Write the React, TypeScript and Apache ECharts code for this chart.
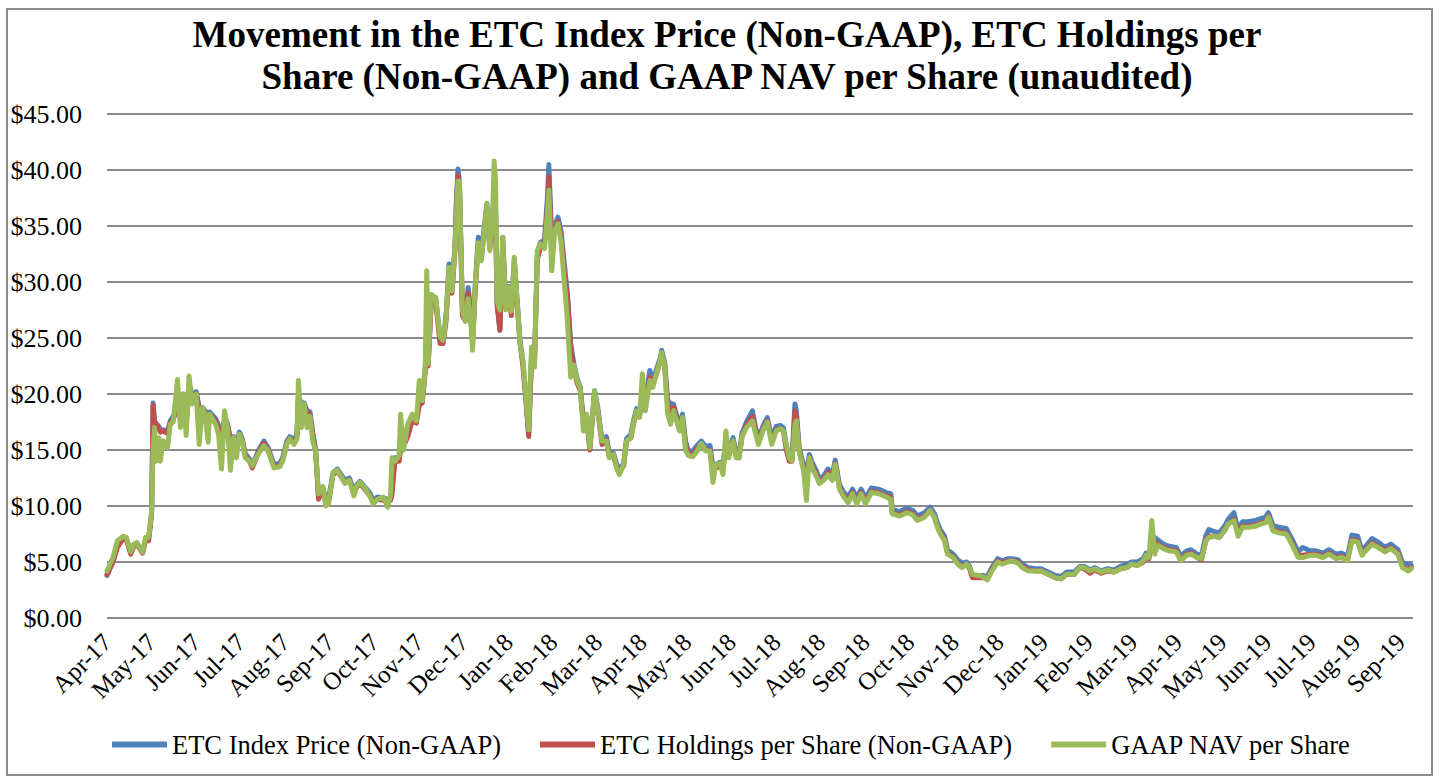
import React, { useEffect, useRef } from "react";
import * as echarts from "echarts";

const titleText =
  "Movement in the ETC Index Price (Non-GAAP), ETC Holdings per\nShare (Non-GAAP) and GAAP NAV per Share (unaudited)";

const seriesNames = [
  "ETC Index Price (Non-GAAP)",
  "ETC Holdings per Share (Non-GAAP)",
  "GAAP NAV per Share",
];

const monthLabels = [
  "Apr-17", "May-17", "Jun-17", "Jul-17", "Aug-17", "Sep-17", "Oct-17", "Nov-17", "Dec-17",
  "Jan-18", "Feb-18", "Mar-18", "Apr-18", "May-18", "Jun-18", "Jul-18", "Aug-18", "Sep-18",
  "Oct-18", "Nov-18", "Dec-18", "Jan-19", "Feb-19", "Mar-19", "Apr-19", "May-19", "Jun-19",
  "Jul-19", "Aug-19", "Sep-19",
];

// days since 2017-04-01
const dayOffsets = [
  0, 4, 7, 11, 13, 16, 18, 20, 24, 26,
  28, 30, 31, 32, 33, 35, 36, 38, 41, 43,
  45, 48, 50, 52, 54, 56, 58, 61, 63, 65,
  67, 69, 70, 74, 76, 78, 80, 82, 84, 86,
  88, 90, 92, 94, 97, 99, 103, 107, 110, 114,
  118, 120, 123, 125, 128, 130, 131, 133, 135, 137,
  139, 141, 143, 145, 148, 150, 152, 155, 158, 161,
  163, 166, 169, 171, 173, 177, 180, 182, 185, 189,
  192, 194, 195, 197, 200, 201, 203, 206, 209, 212,
  214, 216, 218, 219, 220, 222, 225, 228, 230, 232,
  234, 236, 238, 239, 240, 241, 243, 245, 247, 249,
  250, 252, 254, 256, 258, 260, 262, 264, 265, 266,
  267, 269, 271, 273, 275, 277, 279, 281, 283, 285,
  287, 289, 291, 293, 295, 297, 300, 302, 303, 305,
  307, 309, 311, 313, 315, 317, 319, 321, 323, 325,
  327, 329, 331, 332, 334, 337, 340, 342, 345, 347,
  349, 352, 354, 357, 359, 361, 363, 365, 367, 370,
  372, 375, 377, 378, 380, 382, 384, 386, 388, 390,
  392, 394, 396, 399, 402, 405, 408, 411, 413, 415,
  418, 420, 422, 424, 427, 429, 431, 433, 436, 440,
  442, 444, 447, 450, 453, 456, 459, 461, 463, 465,
  467, 469, 470, 472, 475, 477, 479, 481, 484, 486,
  489, 492, 495, 497, 500, 503, 506, 509, 512, 515,
  518, 522, 527, 532, 535, 536, 541, 546, 550, 553,
  558, 562, 565, 567, 569, 572, 574, 578, 581, 584,
  587, 589, 591, 595, 598, 601, 604, 608, 611, 615,
  618, 622, 625, 629, 634, 638, 643, 648, 652, 656,
  661, 665, 668, 672, 675, 679, 683, 687, 691, 695,
  698, 702, 706, 708, 710, 712, 714, 716, 720, 724,
  729, 732, 736, 739, 743, 746, 749, 751, 755, 758,
  762, 764, 768, 771, 774, 778, 783, 787, 790, 792,
  795, 799, 804, 808, 812, 815, 820, 824, 829, 833,
  838, 842, 846, 849, 853, 856, 858, 863, 867, 872,
  876, 881, 884, 888, 890,
];

const gaapNavPerShare = [
  4.2, 5.4, 6.9, 7.3, 7.2, 5.9, 6.6, 6.7, 5.9, 7.2,
  7.2, 9.5, 15.0, 17.0, 14.0, 16.1, 14.0, 15.8, 15.2, 17.3,
  17.5, 21.3, 17.0, 20.0, 16.3, 21.6, 19.1, 20.0, 15.5, 18.8,
  18.2, 15.7, 18.2, 17.3, 16.4, 13.3, 18.5, 17.0, 13.2, 16.1,
  14.3, 16.4, 15.8, 14.3, 14.0, 13.6, 14.6, 15.4, 14.9, 13.4,
  13.5, 14.0, 15.5, 16.0, 15.5, 16.0, 21.2, 17.0, 19.1, 17.0,
  18.0, 15.8, 14.8, 11.1, 11.7, 10.0, 10.2, 13.0, 13.2, 12.5,
  12.0, 12.3, 10.9, 11.8, 12.1, 11.5, 10.8, 10.2, 10.6, 10.8,
  9.9, 11.0, 14.3, 14.0, 14.5, 18.2, 15.0, 17.3, 18.2, 17.6,
  21.2, 19.4, 22.5, 31.0, 22.7, 28.9, 28.6, 25.1, 24.8, 26.8,
  31.3, 29.2, 33.1, 36.0, 39.0, 39.0, 27.5, 26.5, 28.5, 26.0,
  23.9, 30.0, 33.5, 31.9, 34.5, 37.0, 32.8, 36.0, 40.8, 39.0,
  28.3, 27.5, 34.0, 27.5, 29.5, 27.4, 32.2, 28.3, 24.5, 23.0,
  20.0, 16.8, 24.2, 22.4, 32.8, 33.4, 33.0, 36.0, 38.2, 31.0,
  34.6, 35.2, 33.5, 30.0, 26.5, 21.5, 22.6, 21.2, 20.5, 16.7,
  18.2, 15.2, 18.5, 20.3, 18.5, 15.8, 15.8, 14.3, 14.6, 13.4,
  12.8, 13.7, 15.8, 16.1, 17.5, 18.5, 17.9, 21.8, 18.5, 21.2,
  20.6, 22.1, 23.0, 23.7, 22.4, 18.2, 17.3, 18.5, 17.6, 16.7,
  17.9, 15.0, 14.5, 14.4, 14.9, 15.6, 14.9, 14.9, 12.1, 13.7,
  13.8, 12.8, 16.7, 14.3, 15.8, 14.3, 14.3, 16.2, 17.0, 17.6,
  16.5, 15.5, 16.7, 17.5, 15.5, 16.7, 16.9, 16.7, 15.5, 14.3,
  14.0, 17.3, 17.6, 14.8, 13.2, 10.5, 14.3, 13.4, 12.6, 12.0,
  12.3, 12.8, 12.3, 13.7, 11.5, 10.8, 10.3, 11.1, 10.2, 11.1,
  10.2, 11.2, 11.1, 10.8, 10.6, 9.3, 9.1, 9.4, 9.2, 8.7,
  9.0, 9.6, 9.0, 8.1, 7.5, 6.9, 5.7, 5.4, 4.8, 4.5,
  4.8, 4.5, 3.9, 3.8, 3.7, 3.4, 4.2, 5.0, 4.8, 5.0,
  5.1, 4.9, 4.5, 4.2, 4.2, 4.2, 3.9, 3.6, 3.5, 3.9,
  3.9, 4.5, 4.5, 4.2, 4.4, 4.1, 4.3, 4.1, 4.4, 4.5,
  4.8, 4.7, 5.1, 5.6, 5.4, 8.7, 5.7, 6.5, 6.2, 6.0,
  5.9, 5.1, 5.6, 5.7, 5.4, 5.3, 6.9, 7.2, 7.3, 7.2,
  7.9, 8.4, 8.7, 7.3, 8.1, 8.1, 8.2, 8.4, 8.5, 9.0,
  7.8, 7.6, 7.5, 6.5, 5.4, 5.4, 5.6, 5.6, 5.4, 5.7,
  5.3, 5.4, 5.1, 6.9, 6.8, 5.6, 5.9, 6.6, 6.3, 5.9,
  6.2, 5.7, 4.5, 4.2, 4.4,
];

const etcHoldingsPerShare = [
  3.9, 5.0, 6.3, 7.1, 7.0, 5.7, 6.4, 6.6, 5.8, 7.0,
  6.9, 9.3, 19.0, 17.5, 17.3, 17.0, 16.6, 16.7, 16.5, 17.4,
  17.8, 18.5, 18.0, 19.8, 17.2, 20.8, 19.8, 20.0, 18.6, 18.6,
  18.4, 17.5, 18.2, 17.6, 17.0, 16.2, 17.5, 17.2, 15.8, 16.0,
  15.2, 16.4, 15.9, 14.5, 14.0, 13.4, 14.7, 15.6, 15.0, 13.5,
  13.6, 14.1, 15.6, 16.0, 15.7, 16.2, 19.5, 19.0, 19.0, 18.3,
  18.2, 16.3, 14.8, 10.6, 11.5, 10.4, 10.4, 12.8, 13.1, 12.5,
  12.1, 12.3, 11.2, 11.7, 12.0, 11.4, 10.9, 10.3, 10.6, 10.5,
  10.4, 10.5, 11.0, 14.0, 14.0, 15.0, 15.3, 16.2, 17.6, 17.4,
  19.0, 19.2, 22.0, 24.0, 22.5, 28.0, 28.3, 24.5, 24.5, 26.5,
  31.0, 29.0, 32.8, 37.0, 39.5, 38.5, 27.0, 26.5, 29.0, 26.5,
  24.5, 29.5, 33.5, 32.0, 34.3, 36.5, 33.0, 35.0, 38.0, 36.0,
  28.0, 25.7, 33.5, 27.8, 29.3, 27.0, 31.5, 28.0, 24.5, 22.5,
  19.5, 16.2, 23.0, 22.5, 32.0, 33.0, 33.3, 36.5, 39.4, 33.5,
  34.5, 35.4, 34.0, 31.0, 28.5, 24.0, 22.3, 21.0, 20.3, 17.5,
  17.8, 15.0, 18.3, 20.0, 18.5, 15.5, 15.9, 14.4, 14.4, 13.5,
  13.0, 13.6, 15.8, 16.1, 17.4, 18.4, 18.0, 19.5, 19.0, 21.5,
  20.8, 22.0, 22.9, 23.6, 22.5, 19.0, 18.5, 18.8, 17.8, 16.9,
  17.9, 15.5, 14.6, 14.6, 15.1, 15.5, 15.0, 15.0, 13.0, 13.4,
  13.5, 13.4, 15.0, 14.7, 15.8, 14.5, 14.3, 16.2, 17.2, 18.0,
  16.8, 15.7, 16.8, 17.6, 15.8, 16.8, 16.9, 16.7, 15.0, 14.0,
  14.0, 18.5, 18.0, 14.9, 13.3, 12.5, 14.3, 13.6, 12.8, 12.1,
  12.4, 13.0, 12.5, 13.8, 11.6, 10.9, 10.5, 11.2, 10.4, 11.2,
  10.4, 11.3, 11.2, 10.9, 10.8, 9.4, 9.2, 9.5, 9.3, 8.8,
  9.1, 9.6, 9.0, 8.2, 7.6, 7.0, 5.8, 5.5, 4.9, 4.6,
  4.8, 4.4, 3.6, 3.6, 3.6, 3.5, 4.3, 5.1, 4.9, 5.1,
  5.1, 5.0, 4.6, 4.3, 4.2, 4.2, 3.9, 3.6, 3.5, 3.9,
  3.9, 4.5, 4.4, 4.0, 4.3, 4.0, 4.2, 4.1, 4.4, 4.5,
  4.8, 4.7, 5.0, 5.5, 5.3, 6.5, 6.8, 6.6, 6.3, 6.1,
  6.0, 5.2, 5.7, 5.8, 5.4, 5.2, 7.0, 7.3, 7.3, 7.2,
  7.9, 8.4, 8.8, 7.5, 8.2, 8.2, 8.3, 8.5, 8.6, 9.1,
  7.9, 7.7, 7.6, 6.6, 5.5, 5.6, 5.7, 5.7, 5.5, 5.8,
  5.4, 5.5, 5.2, 7.0, 6.9, 5.7, 6.0, 6.7, 6.4, 6.0,
  6.3, 5.8, 4.6, 4.3, 4.5,
];

const etcIndexPrice = [
  3.8, 5.0, 6.5, 7.2, 7.1, 5.8, 6.5, 6.7, 5.9, 7.1,
  7.0, 9.4, 19.2, 17.6, 17.4, 17.1, 16.7, 16.8, 16.7, 17.6,
  18.0, 18.7, 18.2, 20.0, 17.4, 21.0, 20.0, 20.2, 18.8, 18.8,
  18.5, 17.7, 18.4, 17.8, 17.2, 16.4, 17.7, 17.4, 16.0, 16.2,
  15.4, 16.6, 16.0, 14.7, 14.2, 13.6, 14.9, 15.8, 15.2, 13.7,
  13.8, 14.3, 15.8, 16.2, 15.9, 16.4, 19.8, 19.2, 19.2, 18.5,
  18.4, 16.5, 15.0, 10.8, 11.7, 10.5, 10.6, 13.0, 13.3, 12.7,
  12.3, 12.5, 11.4, 11.9, 12.2, 11.6, 11.1, 10.5, 10.8, 10.7,
  10.6, 10.7, 11.5, 14.3, 14.3, 15.3, 15.5, 16.6, 17.9, 17.7,
  19.6, 19.5, 22.4, 24.5, 23.0, 28.3, 28.6, 24.8, 24.8, 27.0,
  31.6, 29.4, 33.3, 37.5, 40.1, 39.0, 27.5, 27.0, 29.5, 27.0,
  25.0, 30.0, 34.0, 32.4, 34.8, 37.0, 33.3, 35.5, 38.5, 36.5,
  28.3, 25.7, 34.0, 28.0, 29.6, 27.3, 32.0, 28.3, 24.8, 22.8,
  19.8, 16.4, 23.5, 22.8, 32.5, 33.5, 33.8, 37.5, 40.5, 34.0,
  35.0, 35.8, 34.5, 31.6, 29.0, 24.5, 22.7, 21.4, 20.6, 17.8,
  18.1, 15.2, 18.6, 20.3, 18.8, 15.8, 16.2, 14.7, 14.7, 13.8,
  13.2, 13.8, 16.0, 16.4, 17.7, 18.7, 18.3, 19.9, 19.4, 22.1,
  21.2, 22.4, 23.2, 23.9, 22.8, 19.5, 19.1, 19.1, 18.1, 17.2,
  18.2, 15.8, 14.9, 14.9, 15.4, 15.8, 15.3, 15.4, 13.5, 13.7,
  13.9, 13.8, 15.5, 15.0, 16.1, 14.8, 14.6, 16.5, 17.5, 18.5,
  17.1, 16.0, 17.1, 17.9, 16.1, 17.1, 17.2, 17.0, 15.4, 14.3,
  14.3, 19.1, 18.5, 15.2, 13.6, 13.0, 14.6, 13.9, 13.1, 12.4,
  12.7, 13.3, 12.8, 14.1, 11.9, 11.2, 10.8, 11.5, 10.7, 11.5,
  10.7, 11.6, 11.5, 11.2, 11.1, 9.7, 9.5, 9.8, 9.6, 9.1,
  9.4, 9.9, 9.3, 8.5, 7.9, 7.3, 6.1, 5.7, 5.2, 4.9,
  5.0, 4.6, 3.8, 3.8, 3.8, 3.7, 4.5, 5.3, 5.1, 5.3,
  5.3, 5.2, 4.8, 4.5, 4.4, 4.4, 4.1, 3.8, 3.7, 4.1,
  4.1, 4.6, 4.6, 4.3, 4.5, 4.2, 4.4, 4.3, 4.6, 4.8,
  5.0, 5.0, 5.3, 5.8, 5.6, 6.8, 7.2, 7.0, 6.6, 6.4,
  6.3, 5.5, 6.0, 6.1, 5.7, 5.6, 7.4, 7.9, 7.7, 7.6,
  8.3, 8.8, 9.4, 7.9, 8.6, 8.6, 8.7, 8.9, 9.0, 9.4,
  8.3, 8.1, 8.0, 7.0, 5.9, 6.3, 6.0, 6.0, 5.8, 6.1,
  5.7, 5.8, 5.5, 7.4, 7.3, 6.0, 6.3, 7.1, 6.8, 6.3,
  6.6, 6.1, 5.0, 4.8, 4.7,
];

const yTicks = { min: 0, max: 45, interval: 5 };
const colors = ["#4F81BD", "#C0504D", "#9BBB59"];
const FONT = '"Liberation Serif", "Times New Roman", serif';

// position in months from Apr 2017 (tick k = first day of month k)
function monthPos(day: number): number {
  const dt = new Date(Date.UTC(2017, 3, 1 + day));
  const m = (dt.getUTCFullYear() - 2017) * 12 + dt.getUTCMonth() - 3;
  const dim = new Date(Date.UTC(dt.getUTCFullYear(), dt.getUTCMonth() + 1, 0)).getUTCDate();
  return m + (dt.getUTCDate() - 1) / dim;
}

export default function App() {
  const ref = useRef<HTMLDivElement>(null);

  useEffect(() => {
    if (!ref.current) return;
    const chart = echarts.init(ref.current, undefined, { renderer: "svg" });
    const xs = dayOffsets.map(monthPos);
    const build = (vals: number[]) => xs.map((x, i) => [x, vals[i]]);
    const valueSets = [etcIndexPrice, etcHoldingsPerShare, gaapNavPerShare];

    chart.setOption({
      animation: false,
      backgroundColor: "#ffffff",
      color: colors,
      graphic: [
        {
          type: "rect",
          shape: { x: 7, y: 9, width: 1425, height: 766 },
          style: { fill: "none", stroke: "#8c8c8c", lineWidth: 2 },
          silent: true,
          z: -1,
        },
        {
          type: "text",
          x: 727,
          y: 13,
          style: {
            text: titleText,
            font: `bold 37px ${FONT}`,
            fill: "#000",
            textAlign: "center",
            textVerticalAlign: "top",
            lineHeight: 42,
          },
        },
      ],
      legend: {
        data: seriesNames,
        left: 112,
        top: 731,
        padding: 0,
        icon: "rect",
        itemWidth: 55,
        itemHeight: 6,
        itemGap: 39,
        textStyle: { fontFamily: FONT, fontSize: 26.5, color: "#000" },
      },
      grid: { left: 107, right: 26, top: 114, bottom: 161 },
      xAxis: {
        type: "value",
        min: 0,
        max: monthPos(dayOffsets[dayOffsets.length - 1]) + 0.04,
        interval: 1,
        axisLine: { show: false },
        axisTick: { show: false },
        splitLine: { show: false },
        axisLabel: {
          rotate: 45,
          margin: 20,
          padding: [15, 0, 0, 0],
          fontFamily: FONT,
          fontSize: 25,
          color: "#000",
          showMaxLabel: false,
          formatter: (v: number) => {
            const i = Math.round(v);
            return Math.abs(v - i) < 1e-6 && monthLabels[i] ? monthLabels[i] : "";
          },
        },
      },
      yAxis: {
        type: "value",
        min: yTicks.min,
        max: yTicks.max,
        interval: yTicks.interval,
        axisLine: { show: false },
        axisTick: { show: false },
        splitLine: { lineStyle: { color: "#8c8c8c", width: 2 } },
        axisLabel: {
          margin: 25,
          fontFamily: FONT,
          fontSize: 26,
          color: "#000",
          formatter: (v: number) => "$" + v.toFixed(2),
        },
      },
      series: seriesNames.map((name, k) => ({
        name,
        type: "line",
        data: build(valueSets[k]),
        showSymbol: false,
        symbol: "none",
        lineStyle: { width: 5, color: colors[k], cap: "round", join: "round" },
        itemStyle: { color: colors[k] },
        emphasis: { disabled: true },
        z: 2 + k,
      })),
    });

    return () => chart.dispose();
  }, []);

  return (
    <div
      ref={ref}
      style={{ position: "fixed", left: 0, top: 0, width: 1439, height: 779, background: "#fff" }}
    />
  );
}
